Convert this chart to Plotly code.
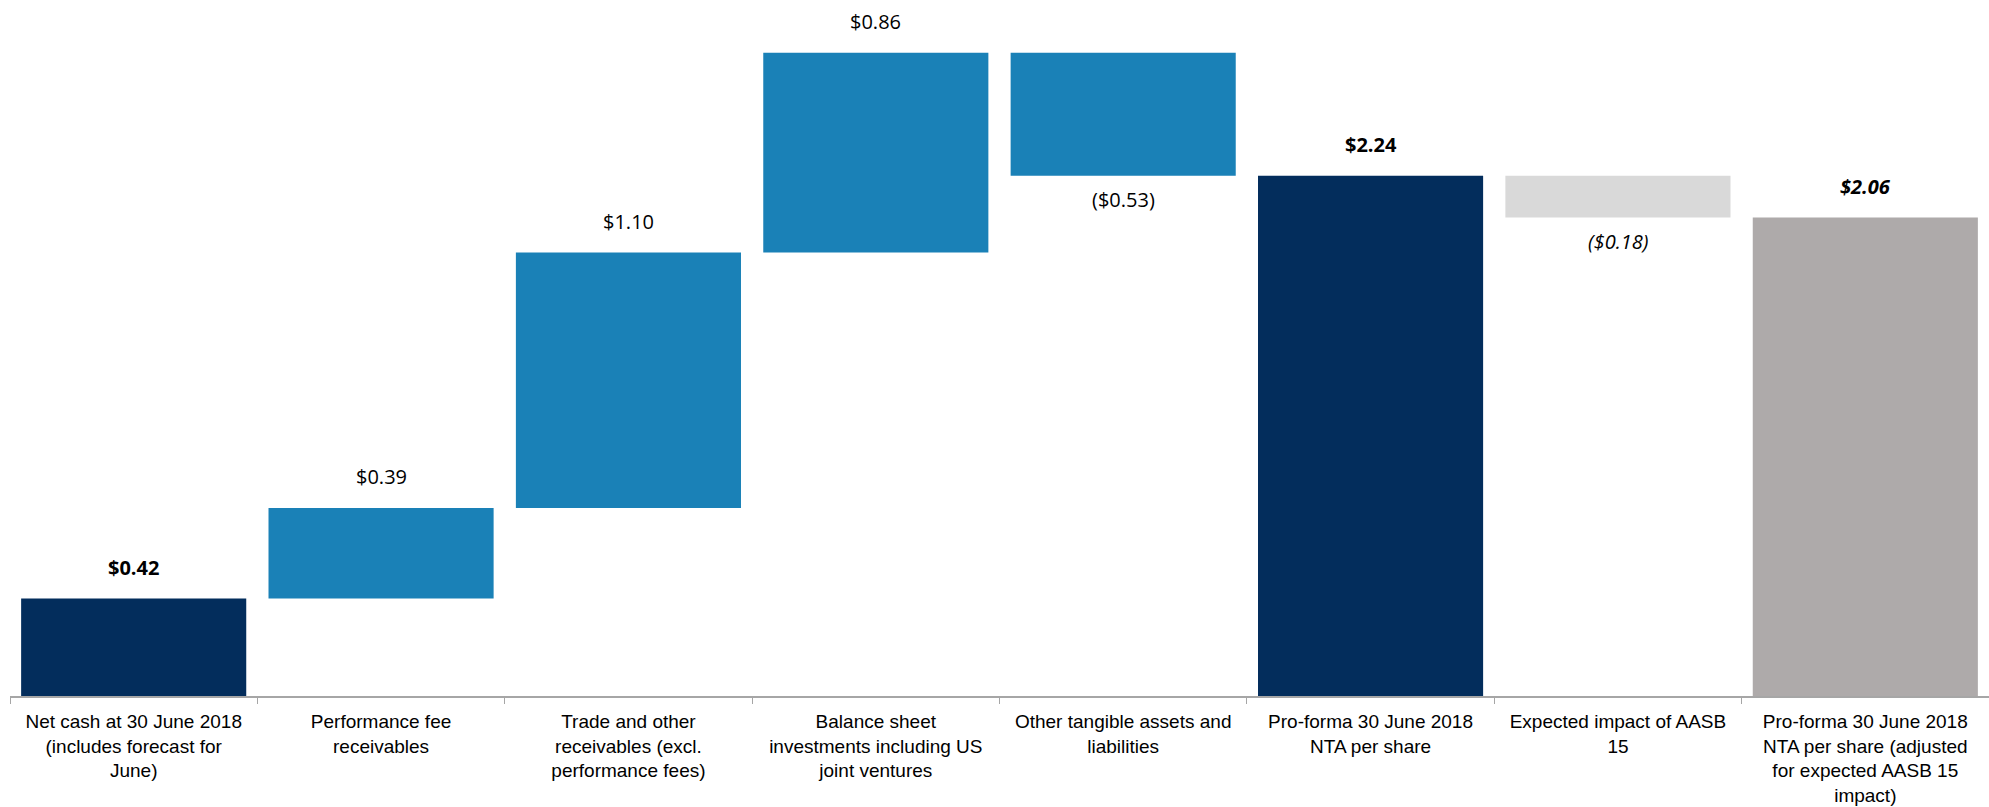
import plotly.graph_objects as go
import numpy as np

categories = [
    "Net cash at 30 June 2018<br>(includes forecast for<br>June)",
    "Performance fee<br>receivables",
    "Trade and other<br>receivables (excl.<br>performance fees)",
    "Balance sheet<br>investments including US<br>joint ventures",
    "Other tangible assets and<br>liabilities",
    "Pro-forma 30 June 2018<br>NTA per share",
    "Expected impact of AASB<br>15",
    "Pro-forma 30 June 2018<br>NTA per share (adjusted<br>for expected AASB 15<br>impact)",
]
values = [0.42, 0.39, 1.10, 0.86, -0.53, 2.24, -0.18, 2.06]
measures = ["total", "relative", "relative", "relative", "relative", "total", "relative", "total"]

colors = ["#032d5c", "#1a81b7", "#1a81b7", "#1a81b7", "#1a81b7", "#032d5c", "#d9d9d9", "#aeaaaa"]
label_style = ["b", "", "", "", "", "b", "i", "bi"]

# compute bases / heights for waterfall
bases, heights, tops, bottoms = [], [], [], []
running = 0.0
for v, m in zip(values, measures):
    if m == "total":
        base, h = 0.0, v
        running = v
    else:
        start = running
        running = running + v
        base = min(start, running)
        h = abs(v)
    bases.append(base)
    heights.append(h)
    bottoms.append(base)
    tops.append(base + h)

fig = go.Figure()
fig.add_trace(go.Bar(
    x=categories, y=heights, base=bases,
    marker=dict(color=colors, line=dict(width=0)),
    width=0.91, hoverinfo="skip",
))

for i, (c, v, st) in enumerate(zip(categories, values, label_style)):
    txt = f"${v:.2f}" if v >= 0 else f"(${abs(v):.2f})"
    if "b" in st:
        txt = f"<b>{txt}</b>"
    if "i" in st:
        txt = f"<i>{txt}</i>"
    if v >= 0:
        y, shift = tops[i], 31
    else:
        y, shift = bottoms[i], -24
    fig.add_annotation(
        x=c, y=y, text=txt, showarrow=False, yanchor="middle", yshift=shift,
        font=dict(family="Open Sans", size=20, color="#000000"),
    )

fig.update_layout(
    width=1989, height=807,
    margin=dict(l=10, r=0, t=0, b=111),
    plot_bgcolor="white", paper_bgcolor="white",
    showlegend=False, bargap=0.09,
    xaxis=dict(
        type="category", showline=True, linecolor="#a6a6a6", linewidth=2,
        ticks="outside", tickson="boundaries", ticklen=6, tickcolor="#a6a6a6", tickwidth=1,
        ticklabelstandoff=7, automargin=False,
        tickfont=dict(family="Liberation Sans", size=19, color="#000000"),
        showgrid=False, zeroline=False,
    ),
    yaxis=dict(range=[0, 2.997], visible=False, showgrid=False, zeroline=False),
)

fig.write_html("out.html")
